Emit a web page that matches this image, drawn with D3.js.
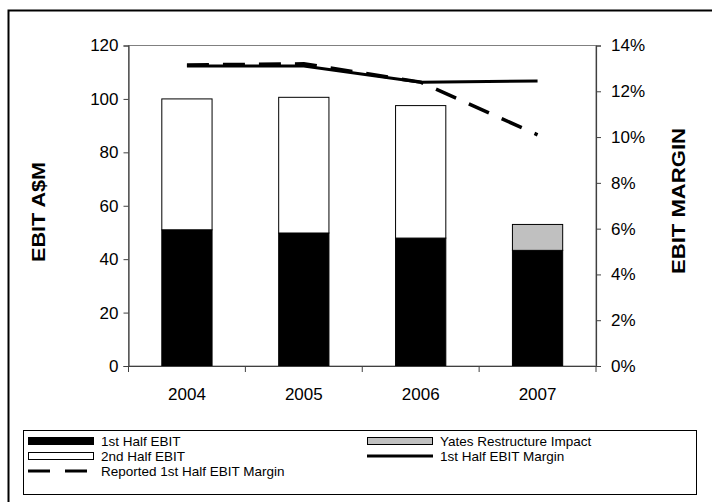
<!DOCTYPE html>
<html>
<head>
<meta charset="utf-8">
<script src="https://cdn.jsdelivr.net/npm/d3@7"></script>
<style>
  html, body { margin: 0; padding: 0; background: #fff; }
  svg { display: block; font-family: "Liberation Sans", Arial, sans-serif; }
</style>
</head>
<body>
<svg id="chart" width="712" height="502"></svg>
<script>
// EBIT by half-year (A$M) and EBIT margin
const years = ["2004", "2005", "2006", "2007"];
const firstHalf = [51, 49.8, 47.9, 43.3];
const secondHalf = [49, 50.8, 49.6, 0];
const yatesImpact = [0, 0, 0, 9.7];
const marginFirstHalf = [0.131, 0.131, 0.124, 0.1245];
const marginReported = [0.1315, 0.132, 0.124, 0.101];
const leftTicks = [0, 20, 40, 60, 80, 100, 120];
const rightTicks = [0, 0.02, 0.04, 0.06, 0.08, 0.10, 0.12, 0.14];

const svg = d3.select("#chart");
const plot = { left: 128.5, right: 596, top: 45.5, bottom: 366 };

const x = d3.scaleBand().domain(years).range([plot.left, plot.right]).paddingInner(0).paddingOuter(0);
const yL = d3.scaleLinear().domain([0, 120]).range([plot.bottom, plot.top]);
const yR = d3.scaleLinear().domain([0, 0.14]).range([plot.bottom, plot.top]);

// outer frame (runs off the right and bottom edges)
svg.append("path")
  .attr("d", "M8.5,520 V10.5 H720")
  .attr("fill", "none").attr("stroke", "#000").attr("stroke-width", 2);

// plot area border
svg.append("rect")
  .attr("x", plot.left).attr("y", plot.top)
  .attr("width", plot.right - plot.left).attr("height", plot.bottom - plot.top)
  .attr("fill", "none").attr("stroke", "#808080").attr("stroke-width", 1);

// stacked bars
const barW = x.bandwidth() * 0.43;
const stackData = years.map((yr, i) => ({
  yr,
  segs: [
    { v0: 0, v1: firstHalf[i], fill: "#000" },
    { v0: firstHalf[i], v1: firstHalf[i] + secondHalf[i], fill: "#fff" },
    { v0: firstHalf[i] + secondHalf[i], v1: firstHalf[i] + secondHalf[i] + yatesImpact[i], fill: "#c0c0c0" }
  ].filter(s => s.v1 > s.v0)
}));
const barG = svg.append("g");
stackData.forEach(d => {
  barG.selectAll(null).data(d.segs).enter().append("rect")
    .attr("x", x(d.yr) + (x.bandwidth() - barW) / 2)
    .attr("width", barW)
    .attr("y", s => yL(s.v1))
    .attr("height", s => yL(s.v0) - yL(s.v1))
    .attr("fill", s => s.fill)
    .attr("stroke", "#000").attr("stroke-width", 1);
});

// axes
const axL = d3.axisLeft(yL).tickValues(leftTicks).tickSize(5).tickPadding(5);
const gL = svg.append("g").attr("transform", `translate(${plot.left},0)`).call(axL);
const axR = d3.axisRight(yR).tickValues(rightTicks).tickSize(5).tickPadding(10).tickFormat(d3.format(".0%"));
const gR = svg.append("g").attr("transform", `translate(${plot.right},0)`).call(axR);
const axB = d3.axisBottom(x).tickSize(0).tickPadding(22);
const gB = svg.append("g").attr("transform", `translate(0,${plot.bottom})`).call(axB);
// category boundary ticks
svg.append("g").selectAll("line").data(years.concat(["end"])).enter().append("line")
  .attr("x1", (d, i) => plot.left + i * x.bandwidth())
  .attr("x2", (d, i) => plot.left + i * x.bandwidth())
  .attr("y1", plot.bottom).attr("y2", plot.bottom + 6)
  .attr("stroke", "#404040");

[gL, gR, gB].forEach(g => {
  g.selectAll("path").attr("stroke", "#404040").attr("stroke-width", 1.2);
  g.selectAll("line").attr("stroke", "#404040");
  g.selectAll("text").attr("font-size", 17).attr("fill", "#000")
    .attr("font-family", "Liberation Sans, Arial, sans-serif");
});

// margin lines
const line = d3.line().x((d, i) => x(years[i]) + x.bandwidth() / 2);
svg.append("path")
  .datum(marginReported)
  .attr("d", line.y(d => yR(d)))
  .attr("fill", "none").attr("stroke", "#000").attr("stroke-width", 3.5)
  .attr("stroke-dasharray", "22,14");
svg.append("path")
  .datum(marginFirstHalf)
  .attr("d", line.y(d => yR(d)))
  .attr("fill", "none").attr("stroke", "#000").attr("stroke-width", 3);

// axis titles
svg.append("text")
  .attr("transform", "translate(45,212) rotate(-90)")
  .attr("text-anchor", "middle").attr("font-size", 18).attr("font-weight", "bold")
  .attr("textLength", 100).attr("lengthAdjust", "spacingAndGlyphs")
  .text("EBIT A$M");
svg.append("text")
  .attr("transform", "translate(685,201) rotate(-90)")
  .attr("text-anchor", "middle").attr("font-size", 18).attr("font-weight", "bold")
  .attr("textLength", 146).attr("lengthAdjust", "spacingAndGlyphs")
  .text("EBIT MARGIN");

// legend
const lg = svg.append("g");
lg.append("rect").attr("x", 23.5).attr("y", 430.5).attr("width", 673).attr("height", 64)
  .attr("fill", "#fff").attr("stroke", "#000").attr("stroke-width", 1);
const legendItems = [
  { label: "1st Half EBIT", type: "rect", fill: "#000", x: 28, row: 0 },
  { label: "2nd Half EBIT", type: "rect", fill: "#fff", x: 28, row: 1 },
  { label: "Reported 1st Half EBIT Margin", type: "dash", x: 28, row: 2 },
  { label: "Yates Restructure Impact", type: "rect", fill: "#c0c0c0", x: 367, row: 0 },
  { label: "1st Half EBIT Margin", type: "line", x: 367, row: 1 }
];
legendItems.forEach(it => {
  const cy = 441 + it.row * 15;
  if (it.type === "rect") {
    lg.append("rect").attr("x", it.x + 0.5).attr("y", cy - 3.5).attr("width", 65).attr("height", 7)
      .attr("fill", it.fill).attr("stroke", "#000").attr("stroke-width", 1);
  } else {
    lg.append("line").attr("x1", it.x).attr("x2", it.x + 66).attr("y1", cy).attr("y2", cy)
      .attr("stroke", "#000").attr("stroke-width", 3)
      .attr("stroke-dasharray", it.type === "dash" ? "22,15" : null);
  }
  lg.append("text").attr("x", it.x + 73).attr("y", cy).attr("dy", "0.35em")
    .attr("font-size", 13.5).text(it.label);
});
</script>
</body>
</html>
